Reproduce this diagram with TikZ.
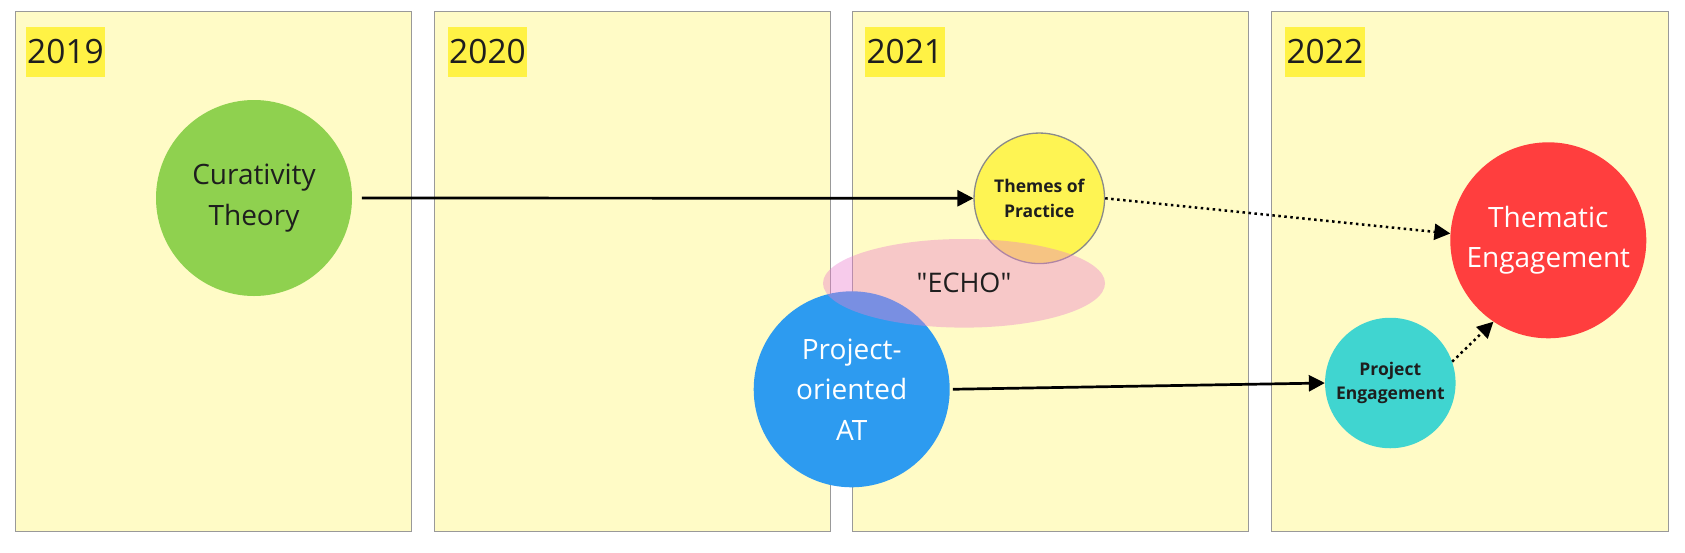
\documentclass[tikz,border=0pt]{standalone}
\usepackage{fontspec}
\setmainfont{Open Sans}
\usepackage{tikz}
\usetikzlibrary{arrows.meta,shapes.geometric}
\definecolor{NoteFill}{HTML}{FFFBC6}
\definecolor{NoteLine}{HTML}{999999}
\definecolor{Marker}{HTML}{FFF245}
\definecolor{Ink}{HTML}{1E1E1E}
\definecolor{Leaf}{HTML}{8FD14F}
\definecolor{Sun}{HTML}{FEF453}
\definecolor{Sky}{HTML}{2D9BF0}
\definecolor{Coral}{HTML}{FF3E3E}
\definecolor{Aqua}{HTML}{40D5D0}
\definecolor{Blush}{HTML}{EB7DCD}

\begin{document}
\begin{tikzpicture}[
  x=1pt,y=-1pt,
  panel/.style={draw=NoteLine,line width=1.3pt,fill=NoteFill,minimum width=396.5pt,minimum height=520pt,inner sep=0pt,outer sep=0pt},
  year/.style={fill=Marker,text=Ink,font=\fontsize{33.5}{40}\selectfont,text height=36pt,text depth=13.4pt,inner xsep=1.5pt,inner ysep=0pt,outer sep=0pt},
  topic/.style={circle,minimum size=196pt,inner sep=0pt,align=center,font=\fontsize{28}{40.5}\selectfont},
  subtopic/.style={circle,minimum size=130.5pt,inner sep=0pt,align=center,text=Ink,font=\bfseries\fontsize{17.5}{24.6}\selectfont},
  arr/.style={-{Triangle[length=16pt,width=16pt]},line width=2.7pt},
  darr/.style={arr,line width=2.5pt,dash pattern=on 2.5pt off 3.5pt}
]
\useasboundingbox (0,0) rectangle (1685,552);
\foreach \yr/\px/\lx in {2019/15.3/25.7,2020/434.3/447.7,2021/852.3/865,2022/1271.7/1285}{
  \node[panel,anchor=north west] (p\yr) at (\px,11.5) {};
  \node[year,anchor=north west] (y\yr) at (\lx,27.3) {\yr};
}
\node[topic,fill=Leaf,text=Ink] (cur) at (254,198) {Curativity\\Theory};
\node[subtopic,fill=Sun,draw=NoteLine!90!black,line width=1.3pt] (themes) at (1039.3,198.3) {Themes of\\Practice};
\node[topic,fill=Sky,text=white] (proj) at (851.7,389.3) {Project-\\oriented\\AT};
\node[topic,fill=Coral,text=white] (te) at (1548.3,240.3) {Thematic\\Engagement};
\node[subtopic,fill=Aqua] (pe) at (1390.3,383) {Project\\Engagement};
\node[ellipse,fill=Blush,fill opacity=0.4,text opacity=1,minimum width=282pt,minimum height=88.6pt,inner sep=0pt,text=Ink,font=\fontsize{27}{32}\selectfont] (echo) at (964,283.3) {\textquotedbl ECHO\textquotedbl};
\draw[arr,shorten <=9.7pt] (cur.east)--(themes.west);
\draw[darr] (themes.east)--(te.176);
\draw[arr,shorten <=3pt] (proj.east)--(pe.west);
\draw[darr] (pe.19)--(te.236);
\end{tikzpicture}
\end{document}
